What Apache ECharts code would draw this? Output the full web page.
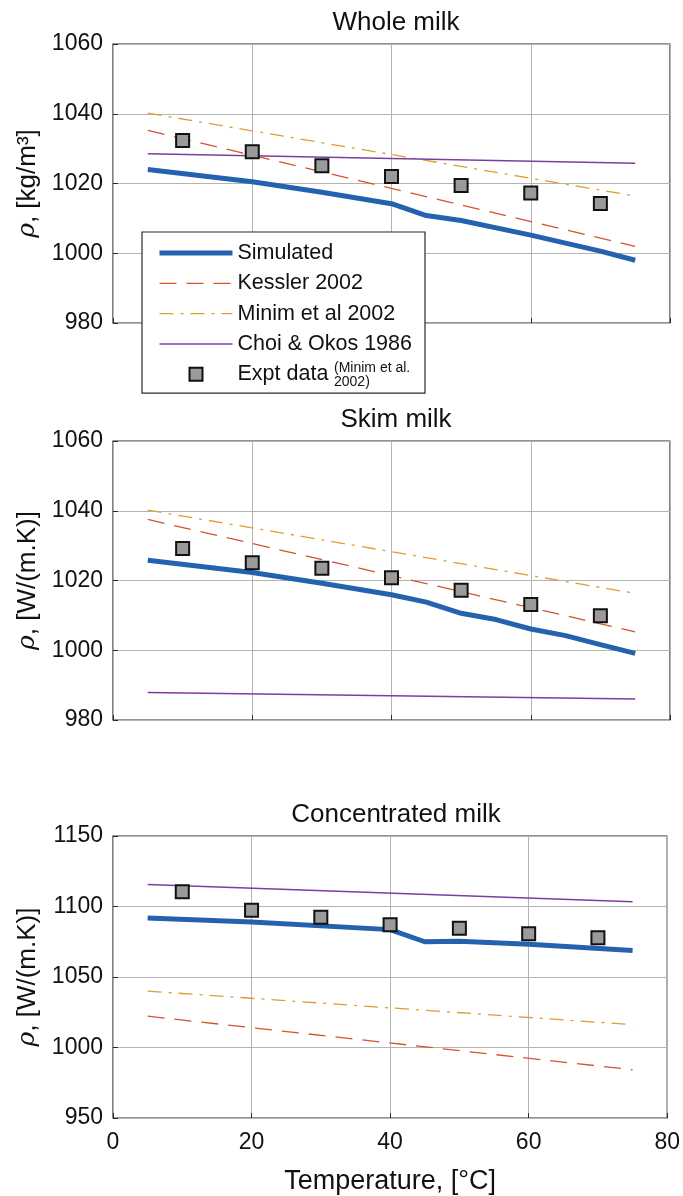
<!DOCTYPE html>
<html><head><meta charset="utf-8">
<script src="https://cdn.jsdelivr.net/npm/echarts@6/dist/echarts.min.js"></script>
<style>html,body{margin:0;padding:0;background:#fff}#c{width:683px;height:1196px}</style>
</head><body><div id="c"></div>
<script>
// ---- data ----
const xTicks = [0, 20, 40, 60, 80];
const titles = ['Whole milk', 'Skim milk', 'Concentrated milk'];
const yNames = ['kg/m³', 'W/(m.K)', 'W/(m.K)'];
const legendNames = ['Simulated', 'Kessler 2002', 'Minim et al 2002', 'Choi & Okos 1986', 'Expt data'];

// Whole milk
const wholeSimX = [5, 20, 30, 40, 45, 50, 60, 70, 75];
const wholeSimY = [1024, 1020.5, 1017.5, 1014.2, 1010.8, 1009.4, 1005.2, 1000.6, 998];
const wholeKesX = [5, 75];
const wholeKesY = [1035.2, 1002];
const wholeMinX = [5, 75];
const wholeMinY = [1040.2, 1016.4];
const wholeChoiX = [5, 75];
const wholeChoiY = [1028.5, 1025.8];
const wholeExpX = [10, 20, 30, 40, 50, 60, 70];
const wholeExpY = [1032.3, 1029.1, 1025.1, 1022, 1019.4, 1017.3, 1014.3];

// Skim milk
const skimSimX = [5, 20, 30, 40, 45, 50, 55, 60, 65, 70, 75];
const skimSimY = [1025.8, 1022.3, 1019.2, 1015.9, 1013.8, 1010.6, 1008.8, 1006.1, 1004.2, 1001.6, 999.1];
const skimKesX = [5, 75];
const skimKesY = [1037.5, 1005.3];
const skimMinX = [5, 75];
const skimMinY = [1040.2, 1016.3];
const skimChoiX = [5, 75];
const skimChoiY = [987.9, 986];
const skimExpX = [10, 20, 30, 40, 50, 60, 70];
const skimExpY = [1029.2, 1025.1, 1023.5, 1020.8, 1017.2, 1013.1, 1009.9];

// Concentrated milk
const concSimX = [5, 20, 40, 45, 50, 60, 75];
const concSimY = [1091.8, 1089, 1083.6, 1075, 1075.3, 1073.3, 1068.8];
const concKesX = [5, 75];
const concKesY = [1022.2, 984.2];
const concMinX = [5, 75];
const concMinY = [1040, 1016.2];
const concChoiX = [5, 75];
const concChoiY = [1115.6, 1103.3];
const concExpX = [10, 20, 30, 40, 50, 60, 70];
const concExpY = [1110.5, 1097.4, 1092.4, 1087.1, 1084.6, 1080.6, 1077.9];

const yRanges = [[980, 1060, 20], [980, 1060, 20], [950, 1150, 50]];

// ---- build ----
function pairs(xs, ys) { return xs.map((x, i) => [x, ys[i]]); }
const panels = [
  [wholeSimX, wholeSimY, wholeKesX, wholeKesY, wholeMinX, wholeMinY, wholeChoiX, wholeChoiY, wholeExpX, wholeExpY],
  [skimSimX, skimSimY, skimKesX, skimKesY, skimMinX, skimMinY, skimChoiX, skimChoiY, skimExpX, skimExpY],
  [concSimX, concSimY, concKesX, concKesY, concMinX, concMinY, concChoiX, concChoiY, concExpX, concExpY]
];
const gridTops = [44, 441, 836];
const gridHeights = [279, 279, 282];
const FONT = 'Liberation Sans, Arial, sans-serif';

const C_SIM = '#2462b0', C_KES = '#d4532d', C_MIN = '#e39b34', C_CHOI = '#7b3f9e';

const grids = [], xAxes = [], yAxes = [], series = [], titleOpts = [];
panels.forEach((p, k) => {
  grids.push({ left: 113, right: 13, top: gridTops[k], height: gridHeights[k], show: true, borderColor: '#2b2b2b', borderWidth: 1.2, backgroundColor: 'transparent', z: 0 });
  xAxes.push({
    type: 'value', gridIndex: k, min: xTicks[0], max: xTicks[xTicks.length - 1], interval: 20,
    axisLine: { show: false },
    axisTick: { show: true, inside: true, length: 5, lineStyle: { color: '#2b2b2b' } },
    splitLine: { show: true, lineStyle: { color: '#b4b4b4', width: 1 } },
    axisLabel: { show: k === 2, color: '#111', fontSize: 23, fontFamily: FONT, margin: 13, formatter: v => String(v) },
    name: k === 2 ? 'Temperature, [°C]' : '',
    nameLocation: 'middle', nameGap: 50,
    nameTextStyle: { color: '#111', fontSize: 27, fontFamily: FONT }
  });
  yAxes.push({
    type: 'value', gridIndex: k, min: yRanges[k][0], max: yRanges[k][1], interval: yRanges[k][2],
    axisLine: { show: false },
    axisTick: { show: true, inside: true, length: 5, lineStyle: { color: '#2b2b2b' } },
    splitLine: { show: true, lineStyle: { color: '#b4b4b4', width: 1 } },
    axisLabel: { color: '#111', fontSize: 23, fontFamily: FONT, margin: 10, formatter: v => String(v) },
    name: '{i|ρ}{n|, [' + yNames[k] + ']}',
    nameLocation: 'middle', nameGap: 70, nameRotate: 90,
    nameTextStyle: { rich: {
      i: { fontStyle: 'italic', fontSize: 25, fontFamily: 'DejaVu Serif, serif', color: '#111' },
      n: { fontSize: 26, fontFamily: FONT, color: '#111' }
    } }
  });
  titleOpts.push({
    text: titles[k], left: 391, textAlign: 'center', top: gridTops[k] - 39,
    textStyle: { fontSize: 26, fontWeight: 'normal', fontFamily: FONT, color: '#111' }
  });
  const common = { xAxisIndex: k, yAxisIndex: k, symbol: 'none', showSymbol: false, animation: false, z: 3 };
  series.push(Object.assign({ type: 'line', name: legendNames[0], data: pairs(p[0], p[1]), lineStyle: { color: C_SIM, width: 5 }, itemStyle: { color: C_SIM } }, common));
  series.push(Object.assign({ type: 'line', name: legendNames[1], data: pairs(p[2], p[3]), lineStyle: { color: C_KES, width: 1.3, type: [17, 10] }, itemStyle: { color: C_KES } }, common));
  series.push(Object.assign({ type: 'line', name: legendNames[2], data: pairs(p[4], p[5]), lineStyle: { color: C_MIN, width: 1.3, type: [14, 7, 3, 7] }, itemStyle: { color: C_MIN } }, common));
  series.push(Object.assign({ type: 'line', name: legendNames[3], data: pairs(p[6], p[7]), lineStyle: { color: C_CHOI, width: 1.5 }, itemStyle: { color: C_CHOI } }, common));
  series.push({ type: 'scatter', name: legendNames[4], xAxisIndex: k, yAxisIndex: k, data: pairs(p[8], p[9]), symbol: 'rect', symbolSize: 13, animation: false, z: 4,
    itemStyle: { color: '#9a9a9a', borderColor: '#111', borderWidth: 2, opacity: 1 } });
});

const legendData = legendNames.map((n, i) => i < 4
  ? { name: n, itemStyle: { opacity: 0 } }
  : { name: n, icon: 'path://M0,0L10,0L10,10L0,10Z' });

const chart = echarts.init(document.getElementById('c'), null, { renderer: 'canvas' });
chart.setOption({
  backgroundColor: '#fff',
  animation: false,
  title: titleOpts,
  grid: grids, xAxis: xAxes, yAxis: yAxes, series: series,
  legend: {
    orient: 'vertical', left: 142, top: 232, z: 10,
    backgroundColor: '#fff', borderColor: '#2b2b2b', borderWidth: 1.2,
    padding: [10, 13, 8, 15], itemWidth: 73, itemHeight: 13, itemGap: 8.3,
    symbolKeepAspect: true,
    selectedMode: false,
    lineStyle: { width: 'inherit' },
    data: legendData,
    textStyle: { fontSize: 21.5, lineHeight: 21, fontFamily: FONT, color: '#111' }
  },
  graphic: [
    { type: 'text', left: 334, top: 361, z: 20, style: { text: '(Minim et al.', fontSize: 14, fontFamily: FONT, fill: '#111' } },
    { type: 'text', left: 334, top: 375, z: 20, style: { text: '2002)', fontSize: 14, fontFamily: FONT, fill: '#111' } }
  ]
});
</script></body></html>
